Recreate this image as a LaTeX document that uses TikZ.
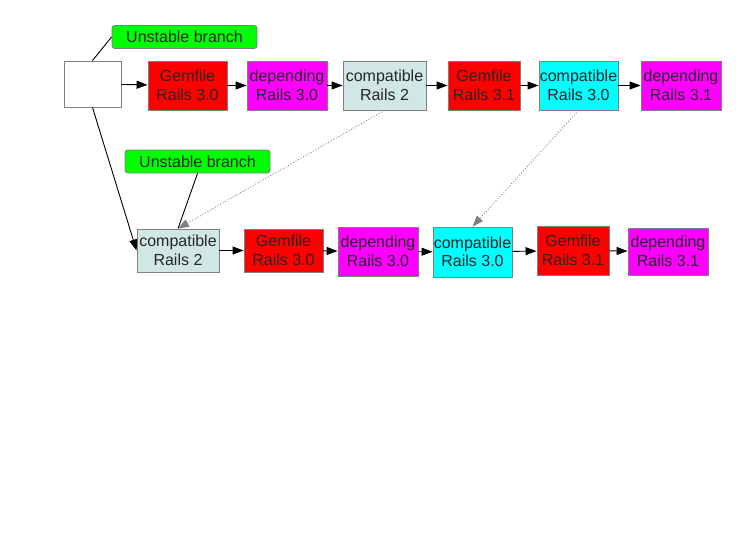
\documentclass[tikz,border=0pt]{standalone}
\usepackage{fontspec}
\setmainfont{Liberation Sans}
\usetikzlibrary{arrows.meta}
\definecolor{teal2}{HTML}{D0E7E5}
\definecolor{bord}{HTML}{7F7F7F}
\definecolor{cred}{HTML}{FF0000}
\definecolor{cmag}{HTML}{FF00FF}
\definecolor{ccyan}{HTML}{00FFFF}
\definecolor{cgreen}{HTML}{00FF00}
\begin{document}
\begin{tikzpicture}[x=1pt,y=-1pt,
  box/.style={draw=bord, line width=0.9pt, align=center, inner sep=0pt, font=\fontsize{16}{18.5}\selectfont, text=black!85},
  ub/.style={box, fill=cgreen, rounded corners=3pt, minimum width=145pt, minimum height=23pt},
  con/.style={line width=0.9pt, -{Triangle[length=11pt,width=8pt]}},
  plain/.style={line width=0.9pt},
  dot/.style={gray, line width=0.9pt, dotted, -{Triangle[length=11pt,width=8pt]}}]
\useasboundingbox (0,0) rectangle (756,535);
\fill[white] (0,0) rectangle (756,535);
% top row
\node[box, fill=white, minimum width=57pt, minimum height=46pt] (blank) at (92.5,84) {};
\node[box, fill=cred, minimum width=79pt, minimum height=49pt] (g1) at (187.5,85.5) {Gemfile\\Rails 3.0};
\node[box, fill=cmag, minimum width=80pt, minimum height=49pt] (d1) at (287,85.5) {depending\\Rails 3.0};
\node[box, fill=teal2, minimum width=83pt, minimum height=49pt] (c1) at (384.5,85.5) {compatible\\Rails 2};
\node[box, fill=cred, minimum width=72pt, minimum height=49pt] (g2) at (484,85.5) {Gemfile\\Rails 3.1};
\node[box, fill=ccyan, minimum width=79pt, minimum height=49pt] (c2) at (578.5,85.5) {compatible\\Rails 3.0};
\node[box, fill=cmag, minimum width=80pt, minimum height=49pt] (d2) at (681,85.5) {depending\\Rails 3.1};
\node[ub] (u1) at (184.5,37) {Unstable branch};
% second row
\node[ub] (u2) at (197.5,161.5) {Unstable branch};
\node[box, fill=teal2, minimum width=82pt, minimum height=43pt] (c3) at (178,250.5) {compatible\\Rails 2};
\node[box, fill=cred, minimum width=79pt, minimum height=43pt] (g3) at (283.5,250.5) {Gemfile\\Rails 3.0};
\node[box, fill=cmag, minimum width=80pt, minimum height=49pt] (d3) at (378,251.5) {depending\\Rails 3.0};
\node[box, fill=ccyan, minimum width=79pt, minimum height=50pt] (c4) at (472.5,252) {compatible\\Rails 3.0};
\node[box, fill=cred, minimum width=72pt, minimum height=49pt] (g4) at (573,250.5) {Gemfile\\Rails 3.1};
\node[box, fill=cmag, minimum width=80pt, minimum height=47pt] (d4) at (668,251.5) {depending\\Rails 3.1};
% connectors
\draw[con] (blank) -- (g1);
\draw[con] (g1) -- (d1);
\draw[con] (d1) -- (c1);
\draw[con] (c1) -- (g2);
\draw[con] (g2) -- (c2);
\draw[con] (c2) -- (d2);
\draw[plain] (blank.north) -- (u1.west);
\draw[con] (blank.south) -- (c3.west);
\draw[plain] (u2.south) -- (c3.north);
\draw[dot] (c1.south) -- (c3.north);
\draw[dot] (c2.south) -- (c4.north);
\draw[con] (c3) -- (g3);
\draw[con] (g3) -- (d3);
\draw[con] (d3) -- (c4);
\draw[con] (c4) -- (g4);
\draw[con] (g4) -- (d4);
\end{tikzpicture}
\end{document}
